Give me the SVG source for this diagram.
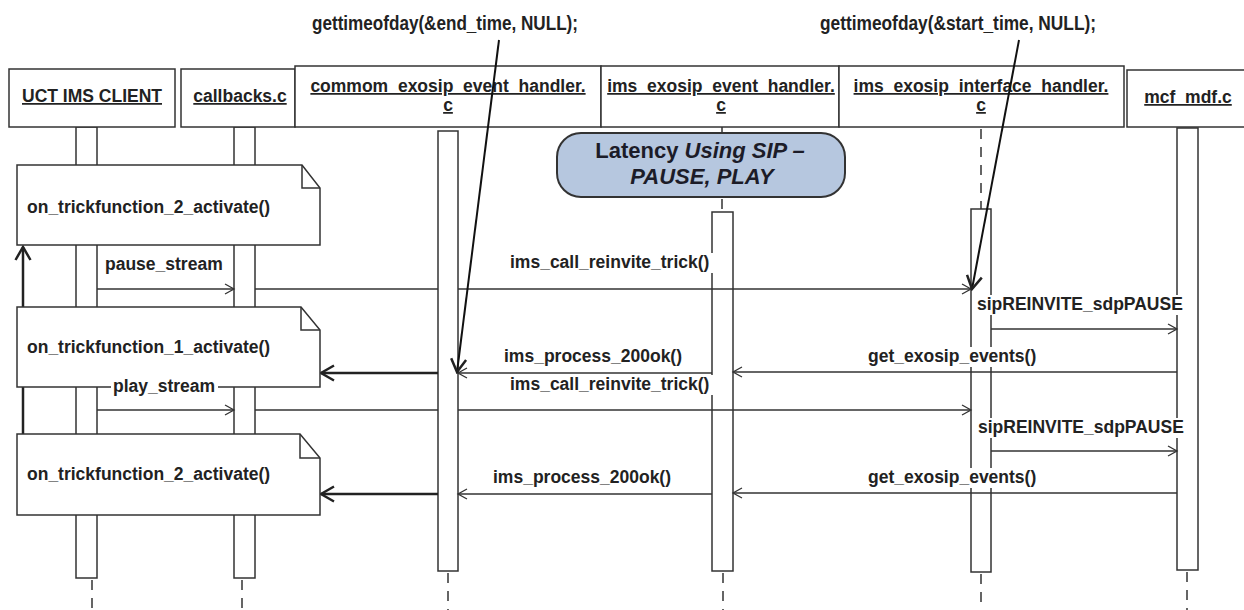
<svg xmlns="http://www.w3.org/2000/svg" width="1244" height="610" viewBox="0 0 1244 610">
<defs>
<style>
.t{font-family:"Liberation Sans",Arial,sans-serif;font-weight:bold;font-size:17.5px;fill:#222}
.u{text-decoration:underline}
.box{fill:#fff;stroke:#333;stroke-width:1.5}
.bar{fill:#fff;stroke:#333;stroke-width:1.5}
.life{stroke:#333;stroke-width:1.5;stroke-dasharray:10 8;fill:none}
.msg{stroke:#333;stroke-width:1.4;fill:none}
.thick{stroke:#222;stroke-width:2.5;fill:none}
.lbg{fill:#fff}
</style>
<marker id="ah" markerWidth="12" markerHeight="12" refX="10" refY="6" orient="auto" markerUnits="userSpaceOnUse"><path d="M1,1 L10,6 L1,11" fill="none" stroke="#333" stroke-width="1.3"/></marker>
<marker id="ahb" markerWidth="16" markerHeight="18" refX="14" refY="9" orient="auto" markerUnits="userSpaceOnUse"><path d="M1,1.5 L14,9 L1,16.5" fill="none" stroke="#222" stroke-width="2.5"/></marker>
</defs>
<rect width="1244" height="610" fill="#fff"/>

<g id="lifelines">
<line class="life" x1="92" y1="580" x2="92" y2="610"/>
<line class="life" x1="242" y1="580" x2="242" y2="610"/>
<line class="life" x1="448" y1="573" x2="448" y2="610"/>
<line class="life" x1="722" y1="127" x2="722" y2="212"/>
<line class="life" x1="723" y1="573" x2="723" y2="610"/>
<line class="life" x1="981" y1="129" x2="981" y2="209"/>
<line class="life" x1="981" y1="574" x2="981" y2="610"/>
<line class="life" x1="1187" y1="572" x2="1187" y2="610"/>
</g>

<g id="activations">
<rect class="bar" x="76" y="127" width="21" height="451"/>
<rect class="bar" x="234" y="127" width="21" height="451"/>
<rect class="bar" x="438" y="131" width="20" height="440"/>
<rect class="bar" x="712" y="212" width="21" height="359"/>
<rect class="bar" x="971" y="209" width="20" height="363"/>
<rect class="bar" x="1177" y="128" width="21" height="442"/>
</g>

<g id="header-uct">
<rect class="box" x="9" y="69" width="166" height="58"/>
<text class="t u" x="92" y="102" text-anchor="middle">UCT IMS CLIENT</text>
</g>
<g id="header-callbacks">
<rect class="box" x="181" y="69" width="114" height="58"/>
<text class="t u" x="240" y="102" text-anchor="middle">callbacks.c</text>
</g>
<g id="header-commom">
<rect class="box" x="295" y="66" width="306" height="61"/>
<text class="t u" x="448" y="92" text-anchor="middle">commom_exosip_event_handler.</text>
<text class="t u" x="448" y="111" text-anchor="middle">c</text>
</g>
<g id="header-ims-event">
<rect class="box" x="601" y="66" width="238" height="61"/>
<text class="t u" x="721" y="92" text-anchor="middle">ims_exosip_event_handler.</text>
<text class="t u" x="721" y="111" text-anchor="middle">c</text>
</g>
<g id="header-interface">
<rect class="box" x="839" y="66" width="285" height="61"/>
<text class="t u" x="981" y="92" text-anchor="middle">ims_exosip_interface_handler.</text>
<text class="t u" x="981" y="111" text-anchor="middle">c</text>
</g>
<g id="header-mcf">
<rect class="box" x="1127" y="70" width="125" height="57"/>
<text class="t u" x="1188" y="103" text-anchor="middle">mcf_mdf.c</text>
</g>

<g id="latency-note">
<rect x="557" y="133" width="288" height="64" rx="24" ry="24" fill="#b6c7df" stroke="#333" stroke-width="2"/>
<text class="t" x="700" y="158" text-anchor="middle" style="font-size:22px;fill:#1c1c28">Latency <tspan font-style="italic">Using SIP –</tspan></text>
<text class="t" x="702" y="184" text-anchor="middle" style="font-size:22px;fill:#1c1c28" font-style="italic">PAUSE, PLAY</text>
</g>

<g id="connectors">
<line class="thick" x1="23" y1="434" x2="23" y2="247" marker-end="url(#ahb)"/>
<line class="msg" x1="97" y1="289" x2="234" y2="289" marker-end="url(#ah)"/>
<line class="msg" x1="255" y1="289" x2="438" y2="289"/>
<line class="msg" x1="458" y1="289" x2="971" y2="289" marker-end="url(#ah)"/>
<line class="msg" x1="991" y1="329" x2="1177" y2="329" marker-end="url(#ah)"/>
<line class="msg" x1="1177" y1="372" x2="733" y2="372" marker-end="url(#ah)"/>
<line class="msg" x1="712" y1="373" x2="458" y2="373" marker-end="url(#ah)"/>
<line class="thick" x1="438" y1="373" x2="321" y2="373" marker-end="url(#ahb)"/>
<line class="msg" x1="97" y1="410" x2="234" y2="410" marker-end="url(#ah)"/>
<line class="msg" x1="255" y1="410" x2="438" y2="410"/>
<line class="msg" x1="458" y1="410" x2="971" y2="410" marker-end="url(#ah)"/>
<line class="msg" x1="991" y1="451" x2="1177" y2="451" marker-end="url(#ah)"/>
<line class="msg" x1="1177" y1="493" x2="733" y2="493" marker-end="url(#ah)"/>
<line class="msg" x1="712" y1="494" x2="458" y2="494" marker-end="url(#ah)"/>
<line class="thick" x1="438" y1="494" x2="321" y2="494" marker-end="url(#ahb)"/>
<line stroke="#111" stroke-width="2" x1="499" y1="40" x2="457" y2="372" marker-end="url(#ahb)"/>
<line stroke="#111" stroke-width="2" x1="1019" y1="40" x2="972" y2="289" marker-end="url(#ahb)"/>
</g>

<g id="note-1">
<path class="box" d="M17,165 H302 L320,188 V245 H17 Z"/>
<path d="M302,165 V188 H320" fill="none" stroke="#333" stroke-width="1.5"/>
<text class="t" x="27" y="213">on_trickfunction_2_activate()</text>
</g>
<g id="note-2">
<path class="box" d="M17,307 H301 L320,330 V387 H17 Z"/>
<path d="M301,307 V330 H320" fill="none" stroke="#333" stroke-width="1.5"/>
<text class="t" x="27" y="353">on_trickfunction_1_activate()</text>
</g>
<g id="note-3">
<path class="box" d="M17,434 H300 L320,458 V515 H17 Z"/>
<path d="M300,434 V458 H320" fill="none" stroke="#333" stroke-width="1.5"/>
<text class="t" x="27" y="480">on_trickfunction_2_activate()</text>
</g>

<g id="labels">
<rect class="lbg" x="103" y="255" width="124" height="20"/>
<text class="t" x="105" y="270">pause_stream</text>
<rect class="lbg" x="508" y="253" width="208" height="20"/>
<text class="t" x="510" y="268">ims_call_reinvite_trick()</text>
<rect class="lbg" x="975" y="295" width="216" height="20"/>
<text class="t" x="977" y="310">sipREINVITE_sdpPAUSE</text>
<rect class="lbg" x="866" y="347" width="176" height="20"/>
<text class="t" x="868" y="362">get_exosip_events()</text>
<rect class="lbg" x="502" y="347" width="185" height="20"/>
<text class="t" x="504" y="362">ims_process_200ok()</text>
<rect class="lbg" x="111" y="377" width="107" height="20"/>
<text class="t" x="113" y="392">play_stream</text>
<rect class="lbg" x="508" y="375" width="208" height="20"/>
<text class="t" x="510" y="390">ims_call_reinvite_trick()</text>
<rect class="lbg" x="976" y="418" width="216" height="20"/>
<text class="t" x="978" y="433">sipREINVITE_sdpPAUSE</text>
<rect class="lbg" x="866" y="468" width="176" height="20"/>
<text class="t" x="868" y="483">get_exosip_events()</text>
<rect class="lbg" x="491" y="468" width="185" height="20"/>
<text class="t" x="493" y="483">ims_process_200ok()</text>
</g>

<g id="timestamps">
<text class="t" x="312" y="30" style="font-size:21px" textLength="266" lengthAdjust="spacingAndGlyphs">gettimeofday(&amp;end_time, NULL);</text>
<text class="t" x="820" y="30" style="font-size:21px" textLength="276" lengthAdjust="spacingAndGlyphs">gettimeofday(&amp;start_time, NULL);</text>
</g>
</svg>
